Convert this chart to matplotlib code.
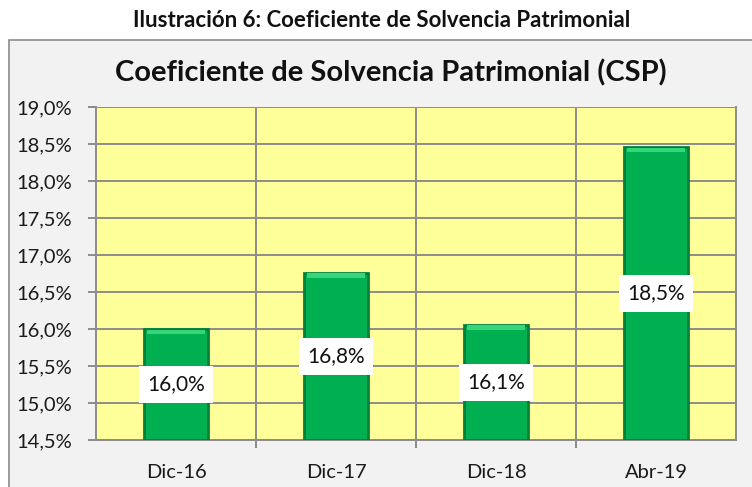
import matplotlib
matplotlib.use("Agg")
from matplotlib import pyplot as plt
from matplotlib.patches import Rectangle
from matplotlib.ticker import FixedLocator, FuncFormatter

plt.rcParams['font.family'] = ['Lato', 'DejaVu Sans']

categories = ['Dic-16', 'Dic-17', 'Dic-18', 'Abr-19']
csp_values = [16.0, 16.76, 16.06, 18.46]
csp_labels = ['16,0%', '16,8%', '16,1%', '18,5%']
y_ticks = [14.5, 15.0, 15.5, 16.0, 16.5, 17.0, 17.5, 18.0, 18.5, 19.0]

fig = plt.figure(figsize=(7.52, 4.87), dpi=100)
fig.patch.set_facecolor('white')

# outer chart box
box = Rectangle((9 / 752, -0.01), 1.0, (487 - 40) / 487 + 0.01, transform=fig.transFigure,
                facecolor='#f2f2f2', edgecolor='#8c8c8c', linewidth=1.2, zorder=-5)
fig.patches.append(box)

fig.text(0.507, 0.957, 'Ilustración 6: Coeficiente de Solvencia Patrimonial',
         ha='center', va='center', fontsize=16, fontweight='bold', color='#111111')
fig.text(0.52, 0.851, 'Coeficiente de Solvencia Patrimonial (CSP)',
         ha='center', va='center', fontsize=21, fontweight='bold', color='#111111')

ax = fig.add_axes([96 / 752, 47 / 487, 640 / 752, 333 / 487])
ax.set_facecolor('#ffff99')

x = list(range(len(categories)))
ymin = y_ticks[0]
ax.bar(x, [v - ymin for v in csp_values], bottom=ymin, width=0.4,
       color='#00b050', edgecolor='#00803a', linewidth=2, zorder=3)
# light cap on top of each bar
ax.bar(x, [0.06] * len(x), bottom=[v - 0.07 for v in csp_values], width=0.36,
       color='#33d67a', edgecolor='none', zorder=4)

for xi, v, lab in zip(x, csp_values, csp_labels):
    ax.text(xi, (ymin + v) / 2, lab, ha='center', va='center', fontsize=15,
            color='#111111', zorder=5,
            bbox=dict(boxstyle='square,pad=0.4', facecolor='white', edgecolor='none'))

ax.set_xlim(-0.5, len(categories) - 0.5)
ax.set_ylim(14.5, 19.0)

ax.yaxis.set_major_locator(FixedLocator(y_ticks))
ax.yaxis.set_major_formatter(FuncFormatter(lambda v, p: f'{v:.1f}%'.replace('.', ',')))
ax.grid(axis='y', color='#8c8c8c', linewidth=1.4, zorder=1)

ax.set_xticks(x)
ax.set_xticklabels(categories)
ax.xaxis.set_minor_locator(FixedLocator([0.5, 1.5, 2.5]))
ax.grid(axis='x', which='minor', color='#8c8c8c', linewidth=1.4, zorder=1)
ax.set_axisbelow(True)

ax.tick_params(axis='y', length=6, width=1.4, color='#8c8c8c', pad=11, labelsize=14.5,
               labelcolor='#1a1a1a')
ax.tick_params(axis='x', which='major', length=0, pad=17, labelsize=14.5, labelcolor='#1a1a1a')
ax.tick_params(axis='x', which='minor', length=6, width=1.4, color='#8c8c8c')

for side in ['top', 'right']:
    ax.spines[side].set_visible(False)
for side in ['left', 'bottom']:
    ax.spines[side].set_color('#8c8c8c')
    ax.spines[side].set_linewidth(1.4)
ax.plot([1, 1], [0, 1], transform=ax.transAxes, color='#8c8c8c', linewidth=1.4, clip_on=False)

fig.savefig('out.png', dpi=100)
